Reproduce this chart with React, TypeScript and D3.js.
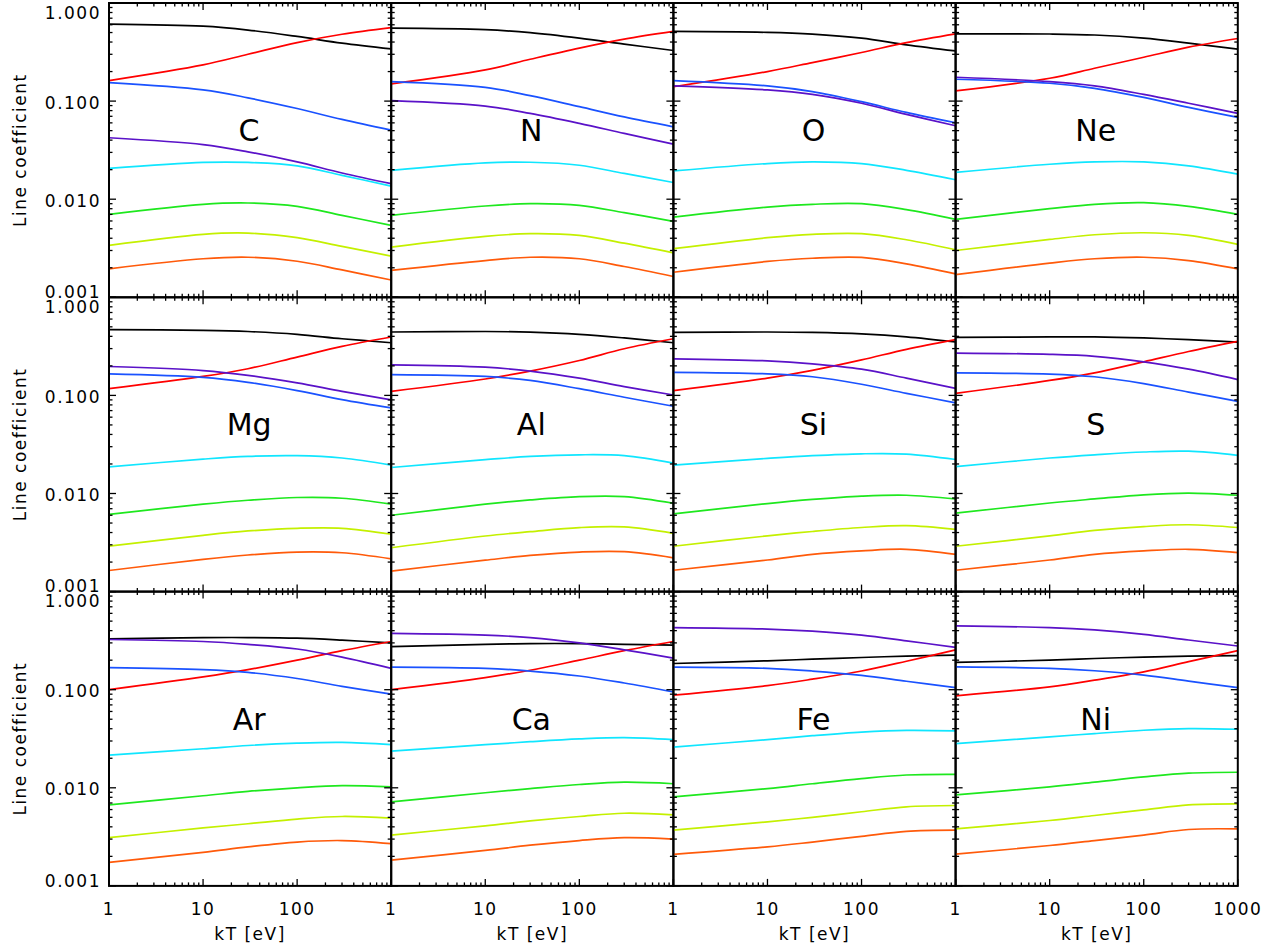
import React from 'react';
import * as d3 from 'd3';

const kT = [1, 10, 30, 100, 300, 1000];
const elements = ['C', 'N', 'O', 'Ne', 'Mg', 'Al', 'Si', 'S', 'Ar', 'Ca', 'Fe', 'Ni'];

const black = [
  [0.61, 0.58, 0.53, 0.456, 0.39, 0.34],
  [0.555, 0.536, 0.498, 0.438, 0.381, 0.328],
  [0.513, 0.502, 0.482, 0.438, 0.375, 0.325],
  [0.485, 0.483, 0.472, 0.438, 0.39, 0.339],
  [0.468, 0.46, 0.448, 0.419, 0.378, 0.344],
  [0.443, 0.448, 0.441, 0.419, 0.385, 0.344],
  [0.44, 0.443, 0.438, 0.423, 0.395, 0.35],
  [0.39, 0.395, 0.395, 0.385, 0.37, 0.35],
  [0.33, 0.34, 0.34, 0.335, 0.32, 0.3],
  [0.275, 0.29, 0.295, 0.295, 0.29, 0.285],
  [0.185, 0.197, 0.205, 0.213, 0.22, 0.225],
  [0.19, 0.2, 0.208, 0.215, 0.22, 0.222],
];
const red = [
  [0.162, 0.234, 0.3, 0.395, 0.48, 0.56],
  [0.15, 0.208, 0.267, 0.347, 0.428, 0.513],
  [0.14, 0.2, 0.247, 0.313, 0.395, 0.485],
  [0.127, 0.171, 0.216, 0.28, 0.355, 0.435],
  [0.117, 0.156, 0.187, 0.246, 0.316, 0.394],
  [0.11, 0.147, 0.177, 0.227, 0.299, 0.378],
  [0.112, 0.15, 0.18, 0.23, 0.295, 0.37],
  [0.105, 0.142, 0.17, 0.22, 0.28, 0.355],
  [0.1, 0.135, 0.16, 0.2, 0.25, 0.31],
  [0.1, 0.133, 0.158, 0.2, 0.25, 0.31],
  [0.088, 0.11, 0.128, 0.155, 0.195, 0.255],
  [0.0866, 0.107, 0.125, 0.152, 0.193, 0.25],
];
const blue = [
  [0.154, 0.13, 0.108, 0.084, 0.065, 0.0506],
  [0.158, 0.138, 0.1136, 0.0877, 0.069, 0.0547],
  [0.162, 0.143, 0.125, 0.0986, 0.0767, 0.0601],
  [0.167, 0.152, 0.135, 0.109, 0.0863, 0.0683],
  [0.166, 0.153, 0.136, 0.112, 0.0906, 0.0745],
  [0.163, 0.156, 0.142, 0.117, 0.0958, 0.0775],
  [0.172, 0.166, 0.155, 0.13, 0.105, 0.084],
  [0.17, 0.165, 0.155, 0.132, 0.108, 0.087],
  [0.168, 0.16, 0.15, 0.13, 0.108, 0.09],
  [0.17, 0.165, 0.155, 0.138, 0.117, 0.095],
  [0.17, 0.165, 0.155, 0.14, 0.122, 0.105],
  [0.171, 0.165, 0.156, 0.141, 0.1224, 0.105],
];
const purple = [
  [0.0423, 0.036, 0.0304, 0.024, 0.0185, 0.0144],
  [0.101, 0.089, 0.075, 0.0593, 0.0469, 0.0364],
  [0.143, 0.13, 0.117, 0.095, 0.0733, 0.0561],
  [0.175, 0.158, 0.143, 0.117, 0.095, 0.075],
  [0.197, 0.179, 0.16, 0.134, 0.11, 0.09],
  [0.205, 0.194, 0.177, 0.15, 0.123, 0.101],
  [0.236, 0.225, 0.21, 0.185, 0.15, 0.118],
  [0.27, 0.262, 0.25, 0.22, 0.185, 0.145],
  [0.325, 0.31, 0.29, 0.26, 0.215, 0.165],
  [0.375, 0.36, 0.34, 0.3, 0.255, 0.21],
  [0.43, 0.415, 0.395, 0.36, 0.315, 0.27],
  [0.447, 0.43, 0.407, 0.367, 0.321, 0.279],
];
const cyan = [
  [0.0206, 0.0237, 0.0237, 0.0219, 0.0175, 0.0136],
  [0.0197, 0.0235, 0.0238, 0.0222, 0.0183, 0.0148],
  [0.0194, 0.0231, 0.024, 0.0231, 0.0197, 0.0158],
  [0.0188, 0.0227, 0.024, 0.024, 0.0219, 0.018],
  [0.0187, 0.0224, 0.0239, 0.0243, 0.023, 0.0195],
  [0.0184, 0.0221, 0.0239, 0.0248, 0.0243, 0.0204],
  [0.0195, 0.0228, 0.0243, 0.0254, 0.0252, 0.0222],
  [0.0188, 0.023, 0.0248, 0.0265, 0.027, 0.0245],
  [0.0215, 0.025, 0.027, 0.0285, 0.029, 0.0275],
  [0.0237, 0.0275, 0.0295, 0.0315, 0.0325, 0.031],
  [0.026, 0.031, 0.034, 0.037, 0.0385, 0.038],
  [0.0282, 0.033, 0.0357, 0.0386, 0.0401, 0.0395],
];
const green = [
  [0.007, 0.00887, 0.00915, 0.00846, 0.00684, 0.0054],
  [0.00685, 0.00853, 0.009, 0.00867, 0.0073, 0.00594],
  [0.00658, 0.00832, 0.00887, 0.009, 0.00782, 0.00623],
  [0.00623, 0.008, 0.00887, 0.00923, 0.00846, 0.00701],
  [0.00614, 0.00778, 0.00853, 0.0091, 0.00895, 0.00778],
  [0.006, 0.00778, 0.0086, 0.0093, 0.0093, 0.00796],
  [0.0062, 0.0079, 0.0087, 0.0094, 0.0096, 0.0088],
  [0.0063, 0.008, 0.0088, 0.0097, 0.0101, 0.0096],
  [0.0067, 0.0083, 0.0092, 0.01, 0.0105, 0.0102],
  [0.0072, 0.0089, 0.0098, 0.0108, 0.0114, 0.011],
  [0.0081, 0.0098, 0.011, 0.0124, 0.0135, 0.0137],
  [0.00848, 0.0102, 0.0114, 0.0129, 0.0141, 0.0144],
];
const yellowGreen = [
  [0.00338, 0.00438, 0.00451, 0.00405, 0.0033, 0.00263],
  [0.00325, 0.00418, 0.00445, 0.00427, 0.00356, 0.00284],
  [0.00313, 0.00405, 0.00438, 0.00445, 0.00386, 0.00305],
  [0.003, 0.00389, 0.00434, 0.00455, 0.00427, 0.00346],
  [0.00291, 0.00375, 0.00415, 0.00442, 0.00442, 0.00384],
  [0.0028, 0.00369, 0.00408, 0.00449, 0.00456, 0.00393],
  [0.0029, 0.0037, 0.0041, 0.0045, 0.0047, 0.0043],
  [0.0029, 0.0037, 0.0042, 0.0046, 0.0048, 0.0045],
  [0.0031, 0.0039, 0.0043, 0.0048, 0.0051, 0.0049],
  [0.0033, 0.0041, 0.0046, 0.0051, 0.0055, 0.0053],
  [0.0037, 0.0045, 0.005, 0.0057, 0.0064, 0.0066],
  [0.00381, 0.00464, 0.00522, 0.00595, 0.0067, 0.00686],
];
const orange = [
  [0.00195, 0.00247, 0.00256, 0.00233, 0.0019, 0.0015],
  [0.00188, 0.00237, 0.00256, 0.00247, 0.00206, 0.00163],
  [0.0018, 0.00232, 0.0025, 0.00255, 0.00219, 0.00173],
  [0.0017, 0.00223, 0.00247, 0.00256, 0.00237, 0.00195],
  [0.00164, 0.00213, 0.00236, 0.00253, 0.00249, 0.00216],
  [0.00162, 0.00209, 0.00234, 0.00253, 0.00255, 0.00221],
  [0.00165, 0.0021, 0.0024, 0.0026, 0.0027, 0.0024],
  [0.00165, 0.0021, 0.0024, 0.0026, 0.0027, 0.0025],
  [0.00174, 0.0022, 0.0025, 0.0028, 0.0029, 0.0027],
  [0.00183, 0.0023, 0.0026, 0.0029, 0.0031, 0.003],
  [0.0021, 0.0025, 0.0028, 0.0032, 0.0036, 0.0037],
  [0.00211, 0.00258, 0.0029, 0.0033, 0.00376, 0.00381],
];

const yTickValues = [0.001, 0.01, 0.1, 1];
const yTickLabels = ['0.001', '0.010', '0.100', '1.000'];
const xTickValues = [1, 10, 100, 1000];
const xTickLabels = ['1', '10', '100', '1000'];

const series = [
  { values: black, color: '#000000' },
  { values: red, color: '#ff0000' },
  { values: blue, color: '#1a52ff' },
  { values: purple, color: '#5a12c8' },
  { values: cyan, color: '#10e6ff' },
  { values: green, color: '#1ee81e' },
  { values: yellowGreen, color: '#c4f000' },
  { values: orange, color: '#ff5a0a' },
];

const FONT = "'DejaVu Sans', 'Liberation Sans', sans-serif";

export default function App() {
  const W = 1278;
  const H = 952;
  const left = 109;
  const colW = 282.2;
  const top = 3;
  const rowH = 294.3;
  const majorLen = 7;
  const minorLen = 3.5;

  const panels = elements.map((el, i) => {
    const c = i % 4;
    const r = Math.floor(i / 4);
    const x0 = left + c * colW;
    const y0 = top + r * rowH;
    const x = d3.scaleLog().domain([1, 1000]).range([x0, x0 + colW]);
    const y = d3.scaleLog().domain([0.001, 1]).range([y0 + rowH, y0]);
    const line = d3
      .line<number>()
      .x((_, j) => x(kT[j]))
      .y((d) => y(d))
      .curve(d3.curveCatmullRom.alpha(0.5));
    const xt = x.ticks();
    const yt = y.ticks();
    const isMajor = (v: number) => Math.abs(Math.log10(v) - Math.round(Math.log10(v))) < 1e-6;
    const clipId = `clip-${i}`;
    return (
      <g key={el}>
        <defs>
          <clipPath id={clipId}>
            <rect x={x0} y={y0} width={colW} height={rowH} />
          </clipPath>
        </defs>
        <g clipPath={`url(#${clipId})`}>
          {series.map((s, k) => (
            <path key={k} d={line(s.values[i]) || ''} fill="none" stroke={s.color} strokeWidth={1.7} />
          ))}
        </g>
        {yt.map((v, k) => {
          const len = isMajor(v) ? majorLen : minorLen;
          const yy = y(v);
          return (
            <g key={'y' + k} stroke="#000" strokeWidth={1.3}>
              <line x1={x0} x2={x0 + len} y1={yy} y2={yy} />
              <line x1={x0 + colW} x2={x0 + colW - len} y1={yy} y2={yy} />
            </g>
          );
        })}
        {xt.map((v, k) => {
          const len = isMajor(v) ? majorLen : minorLen;
          const xx = x(v);
          return (
            <g key={'x' + k} stroke="#000" strokeWidth={1.3}>
              <line x1={xx} x2={xx} y1={y0 + rowH} y2={y0 + rowH - len} />
              <line x1={xx} x2={xx} y1={y0} y2={y0 + len} />
            </g>
          );
        })}
        <rect x={x0} y={y0} width={colW} height={rowH} fill="none" stroke="#000" strokeWidth={2} />
        <text
          x={x0 + colW / 2 - 1}
          y={y0 + 138}
          textAnchor="middle"
          fontFamily={FONT}
          fontSize={30}
          fill="#000"
        >
          {el}
        </text>
        {c === 0 &&
          yTickValues.map((v, k) => {
            const yy = Math.min(Math.max(y(v) + 1.5, y0 + 9.5), y0 + rowH - 5.5);
            return (
              <text
                key={'yl' + k}
                x={x0 - 8}
                y={yy}
                dy="0.36em"
                textAnchor="end"
                fontFamily={FONT}
                fontSize={17}
                letterSpacing={1.5}
                fill="#000"
              >
                {yTickLabels[k]}
              </text>
            );
          })}
        {c === 0 && (
          <text
            transform={`translate(20,${y0 + rowH / 2}) rotate(-90)`}
            textAnchor="middle"
            dy="0.36em"
            fontFamily={FONT}
            fontSize={17}
            letterSpacing={1.5}
            fill="#000"
          >
            Line coefficient
          </text>
        )}
        {r === 2 &&
          xTickValues.map((v, k) =>
            v === 1000 && c !== 3 ? null : (
              <text
                key={'xl' + k}
                x={x(v)}
                y={y0 + rowH + 29}
                textAnchor="middle"
                fontFamily={FONT}
                fontSize={17}
                letterSpacing={1.5}
                fill="#000"
              >
                {xTickLabels[k]}
              </text>
            )
          )}
        {r === 2 && (
          <text
            x={x0 + colW / 2}
            y={y0 + rowH + 54}
            textAnchor="middle"
            fontFamily={FONT}
            fontSize={17}
            letterSpacing={1.5}
            fill="#000"
          >
            kT  [eV]
          </text>
        )}
      </g>
    );
  });

  return (
    <svg
      width={W}
      height={H}
      viewBox={`0 0 ${W} ${H}`}
      style={{ position: 'absolute', left: 0, top: 0, background: '#fff' }}
    >
      <rect x={0} y={0} width={W} height={H} fill="#fff" />
      {panels}
    </svg>
  );
}
